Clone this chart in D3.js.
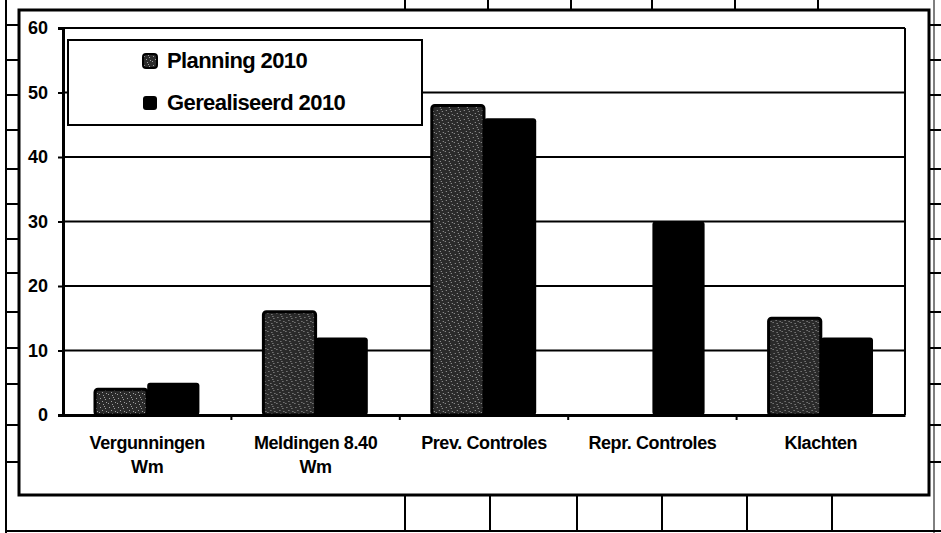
<!DOCTYPE html>
<html>
<head>
<meta charset="utf-8">
<script src="https://cdn.jsdelivr.net/npm/d3@7"></script>
<style>
  body { margin: 0; background: #fff; }
  text { font-family: "Liberation Sans", Arial, sans-serif; font-weight: bold; fill: #000; }
</style>
</head>
<body>
<svg id="chart" width="941" height="533"></svg>
<script>
// chart data
var categories = [["Vergunningen", "Wm"], ["Meldingen 8.40", "Wm"], ["Prev. Controles"], ["Repr. Controles"], ["Klachten"]];
var seriesNames = ["Planning 2010", "Gerealiseerd 2010"];
var planning = [4, 16, 48, 0, 15];
var gerealiseerd = [5, 12, 46, 30, 12];
var yTicks = [0, 10, 20, 30, 40, 50, 60];

var svg = d3.select("#chart");
var plotL = 63, plotR = 905, plotT = 28, plotB = 415;

// stippled fill for the planning bars
var defs = svg.append("defs");
var pat = defs.append("pattern").attr("id", "stip")
  .attr("patternUnits", "userSpaceOnUse").attr("width", 9).attr("height", 9);
pat.append("rect").attr("width", 9).attr("height", 9).attr("fill", "#2a2a2a");
[[1,2],[5,1],[3,5],[7,6],[0,7],[6,3],[4,8]].forEach(function(p) {
  pat.append("rect").attr("x", p[0]).attr("y", p[1]).attr("width", 1).attr("height", 1).attr("fill", "#a0a0a0");
});

// surrounding table lines (scan background)
var deco = svg.append("g").attr("stroke", "#000");
deco.append("line").attr("x1", 6).attr("x2", 6).attr("y1", 0).attr("y2", 533).attr("stroke-width", 2);
deco.append("line").attr("x1", 6).attr("x2", 941).attr("y1", 531).attr("y2", 531).attr("stroke-width", 2);
deco.append("line").attr("x1", 934).attr("x2", 934).attr("y1", 0).attr("y2", 533).attr("stroke-width", 1);
var rows = [25, 60, 95, 130, 169, 204, 239, 273, 312, 348, 384, 425, 462];
rows.forEach(function(r) {
  deco.append("line").attr("x1", 6).attr("x2", 18).attr("y1", r).attr("y2", r).attr("stroke-width", 2);
  deco.append("line").attr("x1", 929).attr("x2", 941).attr("y1", r).attr("y2", r).attr("stroke-width", 2);
});
[405, 490, 577, 662, 747, 832].forEach(function(c) {
  deco.append("line").attr("x1", c).attr("x2", c).attr("y1", 495).attr("y2", 531).attr("stroke-width", 2);
});
[405, 488, 571, 652, 735, 818].forEach(function(c) {
  deco.append("line").attr("x1", c).attr("x2", c).attr("y1", 0).attr("y2", 10).attr("stroke-width", 2);
});

// chart frame
svg.append("rect").attr("x", 19).attr("y", 10).attr("width", 910).attr("height", 485)
  .attr("fill", "#fff").attr("stroke", "#000").attr("stroke-width", 3);

var x = d3.scaleBand().domain(d3.range(categories.length)).range([plotL, plotR]);
var xs = d3.scaleBand().domain([0, 1]).range([x.bandwidth() * 0.19, x.bandwidth() * 0.81]);
var y = d3.scaleLinear().domain([0, 60]).range([plotB, plotT]);

// gridlines
svg.append("g").selectAll("line").data(yTicks.slice(1)).join("line")
  .attr("x1", plotL).attr("x2", plotR)
  .attr("y1", function(d) { return y(d); }).attr("y2", function(d) { return y(d); })
  .attr("stroke", "#000").attr("stroke-width", 2);
svg.append("line").attr("x1", plotR).attr("x2", plotR).attr("y1", plotT).attr("y2", plotB)
  .attr("stroke", "#000").attr("stroke-width", 2);

// bars
var groups = svg.append("g").selectAll("g").data(categories).join("g")
  .attr("transform", function(d, i) { return "translate(" + x(i) + ",0)"; });
groups.append("rect")
  .attr("x", xs(0)).attr("width", xs.bandwidth())
  .attr("y", function(d, i) { return y(planning[i]); })
  .attr("height", function(d, i) { return plotB - y(planning[i]); })
  .attr("rx", 3).attr("fill", "url(#stip)")
  .attr("stroke", function(d, i) { return planning[i] > 0 ? "#000" : "none"; }).attr("stroke-width", 3);
groups.append("rect")
  .attr("x", xs(1)).attr("width", xs.bandwidth())
  .attr("y", function(d, i) { return y(gerealiseerd[i]); })
  .attr("height", function(d, i) { return plotB - y(gerealiseerd[i]); })
  .attr("rx", 3).attr("fill", "#000");

// y axis
var yAxis = svg.append("g").attr("transform", "translate(" + plotL + ",0)")
  .call(d3.axisLeft(y).tickValues(yTicks).tickSize(5).tickPadding(10));
yAxis.select(".domain").attr("stroke-width", 3);
yAxis.selectAll(".tick line").attr("stroke-width", 2);
yAxis.selectAll("text").style("font-size", "18px").style("font-family", "Liberation Sans, Arial").style("font-weight", "bold");

// x axis
var xAxis = svg.append("g").attr("transform", "translate(0," + plotB + ")")
  .call(d3.axisBottom(x).tickValues([]).tickSizeOuter(0));
xAxis.select(".domain").attr("stroke-width", 3);
svg.append("g").selectAll("line").data(d3.range(1, categories.length)).join("line")
  .attr("x1", function(d) { return x(d); }).attr("x2", function(d) { return x(d); })
  .attr("y1", plotB).attr("y2", plotB + 5).attr("stroke", "#000").attr("stroke-width", 2);

var labels = svg.append("g").selectAll("text").data(categories).join("text")
  .attr("x", function(d, i) { return x(i) + x.bandwidth() / 2; })
  .attr("y", 449).attr("text-anchor", "middle").style("font-size", "18px").style("letter-spacing", "-0.4px");
labels.selectAll("tspan").data(function(d) { return d; }).join("tspan")
  .attr("x", function() { return d3.select(this.parentNode).attr("x"); })
  .attr("dy", function(d, j) { return j === 0 ? 0 : 24; })
  .text(function(d) { return d; });

// legend
var lg = svg.append("g");
lg.append("rect").attr("x", 68).attr("y", 40).attr("width", 354).attr("height", 85)
  .attr("fill", "#fff").attr("stroke", "#000").attr("stroke-width", 2);
var li = lg.selectAll("g").data(seriesNames).join("g")
  .attr("transform", function(d, i) { return "translate(143," + (54 + i * 42) + ")"; });
li.append("rect").attr("width", 14).attr("height", 14).attr("rx", 3)
  .attr("fill", function(d, i) { return i === 0 ? "url(#stip)" : "#000"; })
  .attr("stroke", "#000").attr("stroke-width", function(d, i) { return i === 0 ? 2 : 0; });
li.append("text").attr("x", 24).attr("y", 14).style("font-size", "22px").style("letter-spacing", "-0.6px")
  .text(function(d) { return d; });
</script>
</body>
</html>
